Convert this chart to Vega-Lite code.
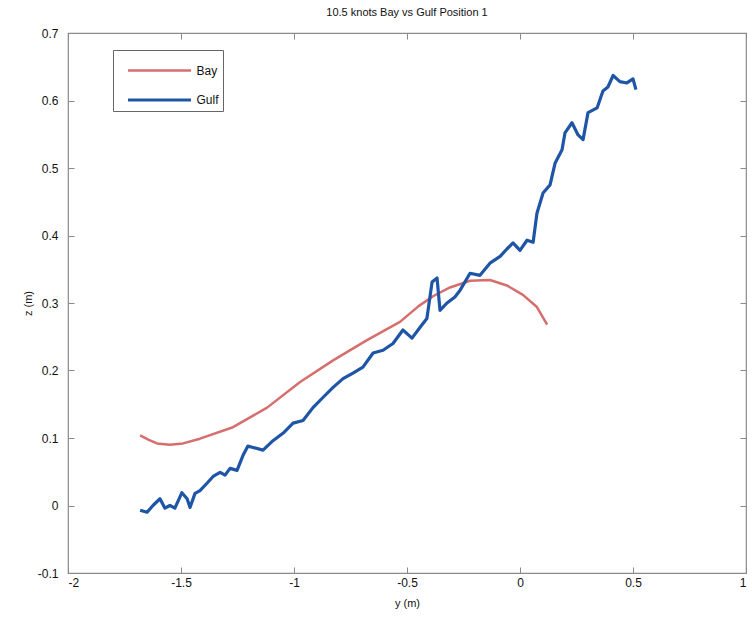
{
  "$schema": "https://vega.github.io/schema/vega-lite/v6.json",
  "width": 678,
  "height": 540,
  "autosize": {"type": "none"},
  "padding": {"left": 68, "top": 33, "right": 6, "bottom": 45},
  "background": "white",
  "title": {"text": "10.5 knots Bay vs Gulf Position 1", "font": "Liberation Sans", "fontSize": 11, "fontWeight": "normal", "color": "#111", "offset": 9},
  "config": {
    "view": {"stroke": "#8a8a8a", "strokeWidth": 1.2},
    "axis": {"grid": false, "domain": false, "tickColor": "#8a8a8a", "tickSize": -6, "labelFont": "Liberation Sans", "labelFontSize": 12, "labelColor": "#111", "titleFont": "Liberation Sans", "titleFontSize": 11, "titleFontWeight": "normal", "titleColor": "#111", "labelExpr": "'' + datum.value"}
  },
  "data": {"values": [
    {"series": "Bay", "y": -1.681, "z": 0.104},
    {"series": "Bay", "y": -1.64, "z": 0.097},
    {"series": "Bay", "y": -1.606, "z": 0.092},
    {"series": "Bay", "y": -1.55, "z": 0.090},
    {"series": "Bay", "y": -1.491, "z": 0.092},
    {"series": "Bay", "y": -1.416, "z": 0.099},
    {"series": "Bay", "y": -1.27, "z": 0.116},
    {"series": "Bay", "y": -1.119, "z": 0.145},
    {"series": "Bay", "y": -0.973, "z": 0.183},
    {"series": "Bay", "y": -0.827, "z": 0.215},
    {"series": "Bay", "y": -0.677, "z": 0.245},
    {"series": "Bay", "y": -0.531, "z": 0.272},
    {"series": "Bay", "y": -0.45, "z": 0.295},
    {"series": "Bay", "y": -0.385, "z": 0.310},
    {"series": "Bay", "y": -0.31, "z": 0.323},
    {"series": "Bay", "y": -0.221, "z": 0.333},
    {"series": "Bay", "y": -0.133, "z": 0.334},
    {"series": "Bay", "y": -0.058, "z": 0.326},
    {"series": "Bay", "y": 0.013, "z": 0.312},
    {"series": "Bay", "y": 0.075, "z": 0.294},
    {"series": "Bay", "y": 0.12, "z": 0.268},
    {"series": "Gulf", "y": -1.681, "z": -0.007},
    {"series": "Gulf", "y": -1.65, "z": -0.010},
    {"series": "Gulf", "y": -1.624, "z": 0.0},
    {"series": "Gulf", "y": -1.593, "z": 0.010},
    {"series": "Gulf", "y": -1.571, "z": -0.004},
    {"series": "Gulf", "y": -1.549, "z": 0.0},
    {"series": "Gulf", "y": -1.527, "z": -0.004},
    {"series": "Gulf", "y": -1.496, "z": 0.019},
    {"series": "Gulf", "y": -1.473, "z": 0.010},
    {"series": "Gulf", "y": -1.46, "z": -0.003},
    {"series": "Gulf", "y": -1.438, "z": 0.018},
    {"series": "Gulf", "y": -1.416, "z": 0.022},
    {"series": "Gulf", "y": -1.385, "z": 0.033},
    {"series": "Gulf", "y": -1.358, "z": 0.043},
    {"series": "Gulf", "y": -1.327, "z": 0.049},
    {"series": "Gulf", "y": -1.305, "z": 0.045},
    {"series": "Gulf", "y": -1.283, "z": 0.055},
    {"series": "Gulf", "y": -1.252, "z": 0.052},
    {"series": "Gulf", "y": -1.226, "z": 0.074},
    {"series": "Gulf", "y": -1.204, "z": 0.088},
    {"series": "Gulf", "y": -1.181, "z": 0.086},
    {"series": "Gulf", "y": -1.137, "z": 0.082},
    {"series": "Gulf", "y": -1.093, "z": 0.096},
    {"series": "Gulf", "y": -1.049, "z": 0.107},
    {"series": "Gulf", "y": -1.004, "z": 0.122},
    {"series": "Gulf", "y": -0.96, "z": 0.126},
    {"series": "Gulf", "y": -0.916, "z": 0.145},
    {"series": "Gulf", "y": -0.872, "z": 0.160},
    {"series": "Gulf", "y": -0.827, "z": 0.175},
    {"series": "Gulf", "y": -0.783, "z": 0.188},
    {"series": "Gulf", "y": -0.739, "z": 0.196},
    {"series": "Gulf", "y": -0.695, "z": 0.205},
    {"series": "Gulf", "y": -0.65, "z": 0.226},
    {"series": "Gulf", "y": -0.606, "z": 0.230},
    {"series": "Gulf", "y": -0.562, "z": 0.240},
    {"series": "Gulf", "y": -0.518, "z": 0.260},
    {"series": "Gulf", "y": -0.478, "z": 0.248},
    {"series": "Gulf", "y": -0.442, "z": 0.264},
    {"series": "Gulf", "y": -0.412, "z": 0.277},
    {"series": "Gulf", "y": -0.389, "z": 0.331},
    {"series": "Gulf", "y": -0.367, "z": 0.337},
    {"series": "Gulf", "y": -0.354, "z": 0.289},
    {"series": "Gulf", "y": -0.323, "z": 0.300},
    {"series": "Gulf", "y": -0.288, "z": 0.309},
    {"series": "Gulf", "y": -0.265, "z": 0.319},
    {"series": "Gulf", "y": -0.221, "z": 0.344},
    {"series": "Gulf", "y": -0.177, "z": 0.341},
    {"series": "Gulf", "y": -0.133, "z": 0.359},
    {"series": "Gulf", "y": -0.088, "z": 0.369},
    {"series": "Gulf", "y": -0.058, "z": 0.380},
    {"series": "Gulf", "y": -0.031, "z": 0.389},
    {"series": "Gulf", "y": 0.0, "z": 0.378},
    {"series": "Gulf", "y": 0.031, "z": 0.393},
    {"series": "Gulf", "y": 0.058, "z": 0.390},
    {"series": "Gulf", "y": 0.075, "z": 0.433},
    {"series": "Gulf", "y": 0.102, "z": 0.463},
    {"series": "Gulf", "y": 0.133, "z": 0.475},
    {"series": "Gulf", "y": 0.155, "z": 0.507},
    {"series": "Gulf", "y": 0.186, "z": 0.527},
    {"series": "Gulf", "y": 0.199, "z": 0.552},
    {"series": "Gulf", "y": 0.23, "z": 0.567},
    {"series": "Gulf", "y": 0.257, "z": 0.549},
    {"series": "Gulf", "y": 0.279, "z": 0.542},
    {"series": "Gulf", "y": 0.301, "z": 0.582},
    {"series": "Gulf", "y": 0.341, "z": 0.589},
    {"series": "Gulf", "y": 0.367, "z": 0.614},
    {"series": "Gulf", "y": 0.389, "z": 0.620},
    {"series": "Gulf", "y": 0.412, "z": 0.637},
    {"series": "Gulf", "y": 0.442, "z": 0.628},
    {"series": "Gulf", "y": 0.473, "z": 0.626},
    {"series": "Gulf", "y": 0.5, "z": 0.632},
    {"series": "Gulf", "y": 0.513, "z": 0.616}
  ]},
  "layer": [
    {
      "mark": {"type": "line", "interpolate": "linear", "strokeJoin": "round"},
      "encoding": {
        "x": {"field": "y", "type": "quantitative", "scale": {"domain": [-2, 1], "nice": false, "zero": false}, "axis": {"orient": "bottom", "title": "y (m)", "values": [-2, -1.5, -1, -0.5, 0, 0.5, 1], "labelPadding": 10, "titlePadding": 9}},
        "y": {"field": "z", "type": "quantitative", "scale": {"domain": [-0.1, 0.7], "nice": false, "zero": false}, "axis": {"orient": "left", "title": "z (m)", "values": [-0.1, 0, 0.1, 0.2, 0.3, 0.4, 0.5, 0.6, 0.7], "labelPadding": 16, "titlePadding": 4}},
        "color": {"field": "series", "type": "nominal", "scale": {"domain": ["Bay", "Gulf"], "range": ["#d66e6e", "#1f55a6"]}, "legend": {"title": null, "orient": "none", "legendX": 45, "legendY": 17, "symbolType": "M-2.1,0H2.1", "symbolSize": 900, "symbolStrokeWidth": 3, "symbolOffset": 25.5, "labelFont": "Liberation Sans", "labelFontSize": 12, "labelColor": "#111", "strokeColor": "#666", "padding": 4, "rowPadding": 6, "labelOffset": 20}},
        "strokeWidth": {"field": "series", "type": "nominal", "scale": {"domain": ["Bay", "Gulf"], "range": [2.5, 3.2]}, "legend": null}
      }
    },
    {
      "mark": {"type": "line", "opacity": 0},
      "encoding": {
        "x": {"field": "y", "type": "quantitative", "axis": {"orient": "top", "labels": false, "title": null, "values": [-2, -1.5, -1, -0.5, 0, 0.5, 1]}},
        "y": {"field": "z", "type": "quantitative", "axis": {"orient": "right", "labels": false, "title": null, "values": [-0.1, 0, 0.1, 0.2, 0.3, 0.4, 0.5, 0.6, 0.7]}},
        "detail": {"field": "series"}
      }
    }
  ],
  "resolve": {"axis": {"x": "independent", "y": "independent"}}
}
